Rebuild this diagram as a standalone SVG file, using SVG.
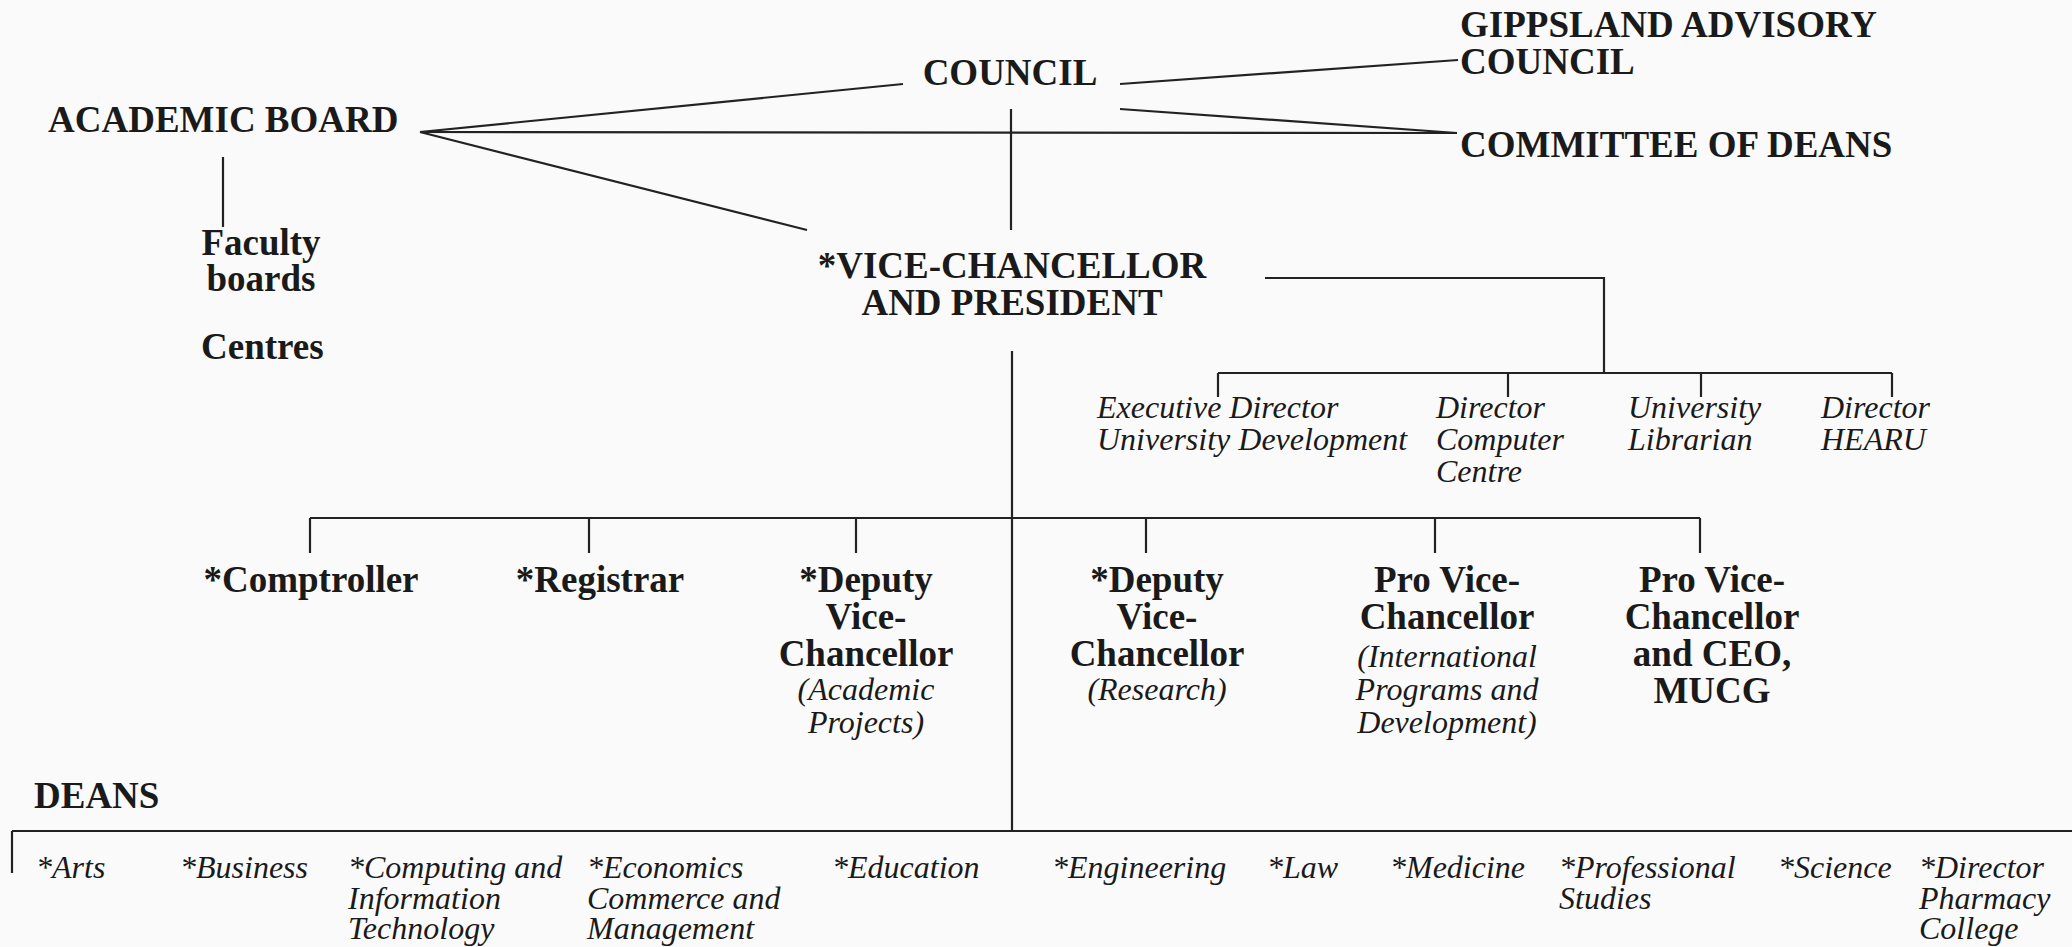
<svg xmlns="http://www.w3.org/2000/svg" width="2072" height="947" viewBox="0 0 2072 947">
<style>
.b{font-family:"Liberation Serif","Times New Roman",serif;font-weight:bold;font-size:37px;fill:#1a1a1a}
.i{font-family:"Liberation Serif","Times New Roman",serif;font-style:italic;font-size:32px;fill:#1a1a1a}
.c{text-anchor:middle}
.ln{stroke:#222;stroke-width:2.2;fill:none}
</style>
<rect width="2072" height="947" fill="#fafafa"/>
<g id="connectors" class="ln">
<line x1="420" y1="132" x2="903" y2="84"/>
<line x1="420" y1="132" x2="1457" y2="133"/>
<line x1="420" y1="132" x2="807" y2="230"/>
<line x1="1120" y1="84" x2="1458" y2="60"/>
<line x1="1120" y1="109" x2="1457" y2="133"/>
<line x1="1011" y1="109" x2="1011" y2="230"/>
<line x1="223" y1="157" x2="223" y2="227"/>
<polyline points="1265,278 1604,278 1604,373"/>
<line x1="1218" y1="373" x2="1892" y2="373"/>
<line x1="1218" y1="373" x2="1218" y2="397"/>
<line x1="1508" y1="373" x2="1508" y2="397"/>
<line x1="1701" y1="373" x2="1701" y2="397"/>
<line x1="1892" y1="373" x2="1892" y2="397"/>
<line x1="1012" y1="351" x2="1012" y2="831"/>
<line x1="310" y1="518" x2="1700" y2="518"/>
<line x1="310" y1="518" x2="310" y2="553"/>
<line x1="589" y1="518" x2="589" y2="553"/>
<line x1="856" y1="518" x2="856" y2="553"/>
<line x1="1146" y1="518" x2="1146" y2="553"/>
<line x1="1435" y1="518" x2="1435" y2="553"/>
<line x1="1700" y1="518" x2="1700" y2="553"/>
<line x1="12" y1="831" x2="2072" y2="831"/>
<line x1="12" y1="831" x2="12" y2="873"/>
</g>
<g id="council"><text class="b c" x="1010" y="85">COUNCIL</text></g>
<g id="academic-board"><text class="b" x="48" y="132">ACADEMIC BOARD</text></g>
<g id="gippsland"><text class="b" x="1460" y="37">GIPPSLAND ADVISORY</text><text class="b" x="1460" y="74">COUNCIL</text></g>
<g id="committee-of-deans"><text class="b" x="1460" y="157">COMMITTEE OF DEANS</text></g>
<g id="faculty-boards"><text class="b c" x="261" y="255">Faculty</text><text class="b c" x="261" y="291">boards</text></g>
<g id="centres"><text class="b" x="201" y="359">Centres</text></g>
<g id="vice-chancellor"><text class="b c" x="1012" y="278">*VICE-CHANCELLOR</text><text class="b c" x="1012" y="315">AND PRESIDENT</text></g>
<g id="exec-director"><text class="i" x="1097" y="418">Executive Director</text><text class="i" x="1097" y="450">University Development</text></g>
<g id="director-computer"><text class="i" x="1436" y="418">Director</text><text class="i" x="1436" y="450">Computer</text><text class="i" x="1436" y="482">Centre</text></g>
<g id="librarian"><text class="i" x="1628" y="418">University</text><text class="i" x="1628" y="450">Librarian</text></g>
<g id="director-hearu"><text class="i" x="1821" y="418">Director</text><text class="i" x="1821" y="450">HEARU</text></g>
<g id="comptroller"><text class="b c" x="311" y="592">*Comptroller</text></g>
<g id="registrar"><text class="b c" x="600" y="592">*Registrar</text></g>
<g id="dvc-academic"><text class="b c" x="866" y="592">*Deputy</text><text class="b c" x="866" y="629">Vice-</text><text class="b c" x="866" y="666">Chancellor</text><text class="i c" x="866" y="700">(Academic</text><text class="i c" x="866" y="733">Projects)</text></g>
<g id="dvc-research"><text class="b c" x="1157" y="592">*Deputy</text><text class="b c" x="1157" y="629">Vice-</text><text class="b c" x="1157" y="666">Chancellor</text><text class="i c" x="1157" y="700">(Research)</text></g>
<g id="pvc-international"><text class="b c" x="1447" y="592">Pro Vice-</text><text class="b c" x="1447" y="629">Chancellor</text><text class="i c" x="1447" y="667">(International</text><text class="i c" x="1447" y="700">Programs and</text><text class="i c" x="1447" y="733">Development)</text></g>
<g id="pvc-mucg"><text class="b c" x="1712" y="592">Pro Vice-</text><text class="b c" x="1712" y="629">Chancellor</text><text class="b c" x="1712" y="666">and CEO,</text><text class="b c" x="1712" y="703">MUCG</text></g>
<g id="deans-label"><text class="b" x="34" y="808">DEANS</text></g>
<g id="deans">
<text class="i" x="36" y="878">*Arts</text>
<text class="i" x="180" y="878">*Business</text>
<text class="i" x="348" y="878">*Computing and</text><text class="i" x="348" y="909">Information</text><text class="i" x="348" y="939">Technology</text>
<text class="i" x="587" y="878">*Economics</text><text class="i" x="587" y="909">Commerce and</text><text class="i" x="587" y="939">Management</text>
<text class="i" x="832" y="878">*Education</text>
<text class="i" x="1052" y="878">*Engineering</text>
<text class="i" x="1267" y="878">*Law</text>
<text class="i" x="1390" y="878">*Medicine</text>
<text class="i" x="1559" y="878">*Professional</text><text class="i" x="1559" y="909">Studies</text>
<text class="i" x="1778" y="878">*Science</text>
<text class="i" x="1919" y="878">*Director</text><text class="i" x="1919" y="909">Pharmacy</text><text class="i" x="1919" y="939">College</text>
</g>
</svg>
